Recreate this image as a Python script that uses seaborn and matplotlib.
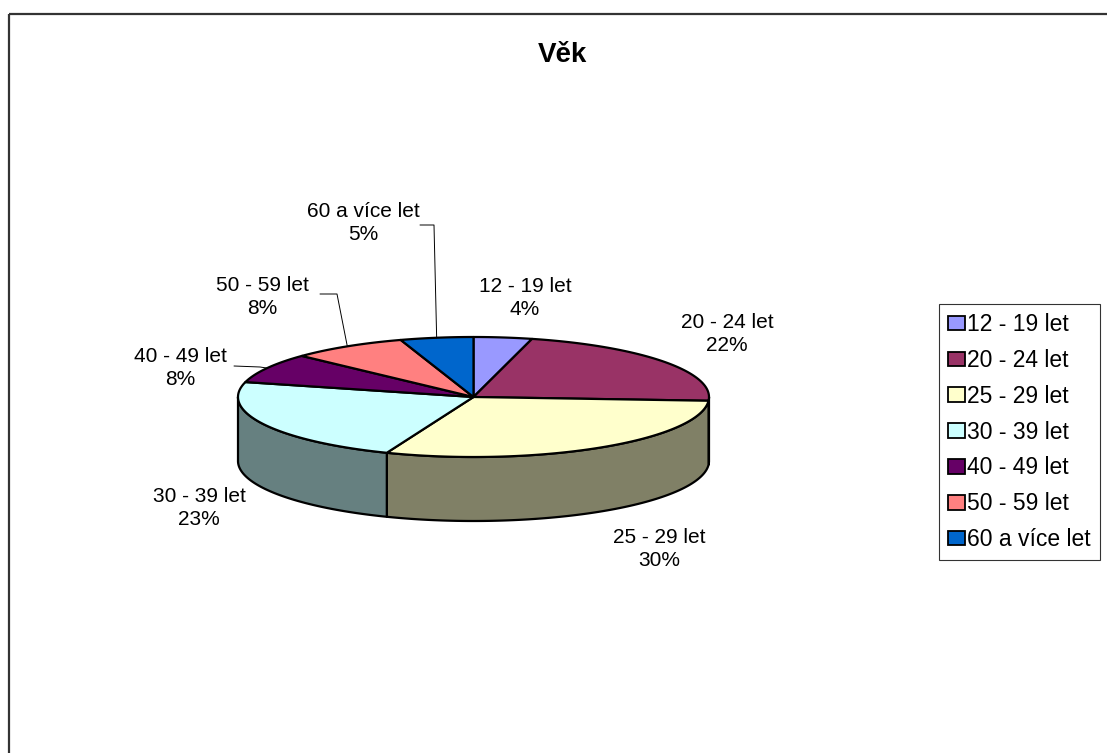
import numpy as np
import matplotlib
matplotlib.use("Agg")
import matplotlib.pyplot as plt
import seaborn as sns
from matplotlib.patches import Polygon, Patch

sns.set_style("white")
plt.rcParams['font.family'] = ['Liberation Sans', 'DejaVu Sans']
plt.rcParams['text.color'] = 'black'

# ---- data ----
title = "Věk"
categories = ["12 - 19 let", "20 - 24 let", "25 - 29 let", "30 - 39 let",
              "40 - 49 let", "50 - 59 let", "60 a více let"]
values = [4, 22, 30, 23, 8, 8, 5]
colors = ["#9999FF", "#993366", "#FFFFCC", "#CCFFFF", "#660066", "#FF8080", "#0066CC"]

# ---- layout (pixel space) ----
W, H = 1107, 753
cx, cy, rx, ry, depth = 473.5, 397.0, 235.5, 60.0, 64.0
label_pos = [(525, 298), (727, 334), (659, 549), (199, 508),
             (180, 368), (262, 297), (363, 223)]
leaders = {4: [(234, 366), (260, 367)], 5: [(320, 294), (337, 294)],
           6: [(420, 225), (434, 225)]}

fig = plt.figure(figsize=(W / 100, H / 100), dpi=100)
ax = fig.add_axes([0, 0, 1, 1])
ax.set_xlim(0, W)
ax.set_ylim(H, 0)
ax.axis("off")


def pt(theta, dy=0.0):
    t = np.radians(theta)
    return cx + rx * np.sin(t), cy - ry * np.cos(t) + dy


def arc(a0, a1, dy=0.0, n=None):
    n = n or max(2, int(abs(a1 - a0) * 2))
    th = np.linspace(a0, a1, n)
    return [pt(t, dy) for t in th]


total = float(sum(values))
bounds = np.concatenate([[0], np.cumsum(values) / total * 360.0])


def darker(c, f=0.5):
    r, g, b = matplotlib.colors.to_rgb(c)
    return (r * f, g * f, b * f)


lw = 1.6
# sides (front half visible: 90..270)
for i, c in enumerate(colors):
    a0, a1 = max(bounds[i], 90), min(bounds[i + 1], 270)
    if a1 <= a0:
        continue
    top = arc(a0, a1)
    bot = arc(a1, a0, dy=depth)
    ax.add_patch(Polygon(top + bot, closed=True, facecolor=darker(c),
                         edgecolor="black", lw=lw, joinstyle="round", zorder=2))

# top faces
for i, c in enumerate(colors):
    pts = [(cx, cy)] + arc(bounds[i], bounds[i + 1])
    ax.add_patch(Polygon(pts, closed=True, facecolor=c, edgecolor="black",
                         lw=lw, joinstyle="round", zorder=3))

# labels
for i, (cat, v) in enumerate(zip(categories, values)):
    x, y = label_pos[i]
    ax.text(x, y, f"{cat}\n{v}%", ha="center", va="center", fontsize=15,
            linespacing=1.3, zorder=5)
    if i in leaders:
        mid = (bounds[i] + bounds[i + 1]) / 2
        ex, ey = pt(mid)
        xs = [p[0] for p in leaders[i]] + [ex]
        ys = [p[1] for p in leaders[i]] + [ey]
        ax.plot(xs, ys, color="black", lw=0.7, zorder=4)

ax.text(562, 55, title, ha="center", va="center", fontsize=20,
        fontweight="bold")

# chart border (top and left visible)
ax.plot([9, W], [14, 14], color="#333333", lw=1.6, solid_capstyle="butt")
ax.plot([9, 9], [14, H], color="#333333", lw=1.6, solid_capstyle="butt")

handles = [Patch(facecolor=c, edgecolor="black", lw=1.3) for c in colors]
leg = ax.legend(handles, categories, loc="upper left",
                bbox_to_anchor=(939 / W, 1 - 304 / H), bbox_transform=fig.transFigure,
                fontsize=16.5, frameon=True, fancybox=False, edgecolor="black",
                handlelength=0.72, handleheight=0.6, handletextpad=0.1,
                labelspacing=0.56, borderpad=0.4, borderaxespad=0)
leg.get_frame().set_linewidth(0.8)

fig.savefig("out.png", dpi=100)
